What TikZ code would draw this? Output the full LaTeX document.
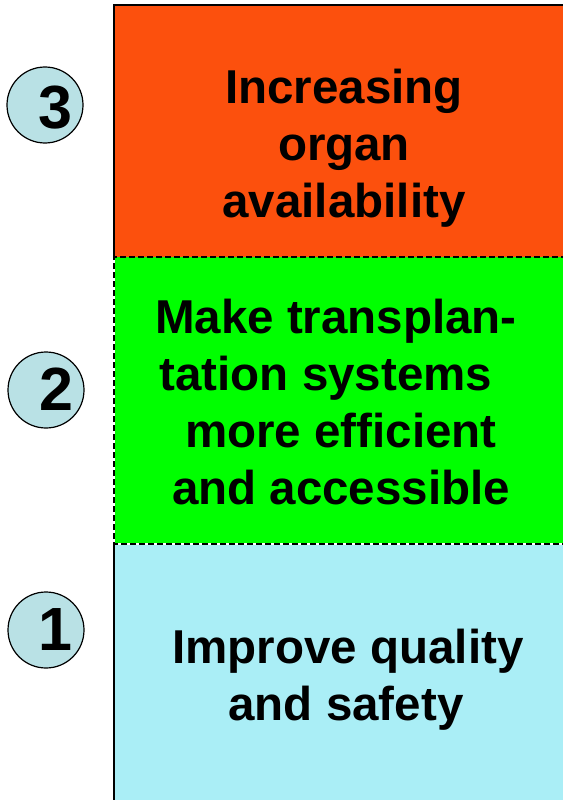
\documentclass[tikz,border=0pt]{standalone}
\usepackage{fontspec}
\setmainfont{Liberation Sans}
\definecolor{orangebox}{RGB}{252,80,13}
\definecolor{greenbox}{RGB}{0,255,0}
\definecolor{bluebox}{RGB}{170,238,246}
\definecolor{circfill}{RGB}{185,225,229}
\begin{document}
\begin{tikzpicture}[x=1bp,y=-1bp,
  panel/.style={anchor=north west, minimum width=490bp, inner sep=0pt, outer sep=0pt},
  edge/.style={line width=2bp, black},
  txt/.style={anchor=base, inner sep=0pt, font=\fontsize{47.5bp}{57bp}\selectfont\bfseries},
  num/.style={circle, draw=black, line width=1.2bp, fill=circfill, minimum size=76bp, inner sep=0pt},
  digit/.style={inner sep=0pt, font=\fontsize{61bp}{61bp}\selectfont\bfseries}]
\useasboundingbox (0,0) rectangle (563,800);
\clip (0,0) rectangle (563,800);
\fill[white] (0,0) rectangle (563,800);
% panels
\node[panel, fill=orangebox, minimum height=252bp] (top) at (114,5) {};
\node[panel, fill=greenbox, minimum height=287bp] (mid) at (114,257) {};
\node[panel, fill=bluebox, minimum height=300bp] (bot) at (114,544) {};
\draw[edge] (top.south west) -- (top.north west) -- (top.north east);
\draw[edge] (bot.north west) -- (bot.south west);
\draw[white, line width=1.5bp] (mid.north west) -- (mid.south west) -- (mid.south east);
\draw[black, line width=1.6bp, dash pattern=on 6bp off 3bp] (mid.south east) -- (mid.south west) -- (mid.north west) -- (mid.north east);
% texts
\node[txt] (t1) at (344,103) {Increasing};
\node[txt] (t2) at (344,160) {organ};
\node[txt] (t3) at (344,217) {availability};
\node[txt] (m1) at (336,333) {Make transplan-};
\node[txt] (m2) at (326,390) {tation systems};
\node[txt] (m3) at (341,447) {more efficient};
\node[txt] (m4) at (341,504) {and accessible};
\node[txt] (b1) at (348,663) {Improve quality};
\node[txt] (b2) at (346,720) {and safety};
% number circles
\node[num] (c3) at (45,105) {};
\node[num] (c2) at (46,390) {};
\node[num] (c1) at (46,630) {};
\node[digit] (d3) at (55,107.5) {3};
\node[digit] (d2) at (56,389) {2};
\node[digit] (d1) at (55,630) {1};
\end{tikzpicture}
\end{document}
